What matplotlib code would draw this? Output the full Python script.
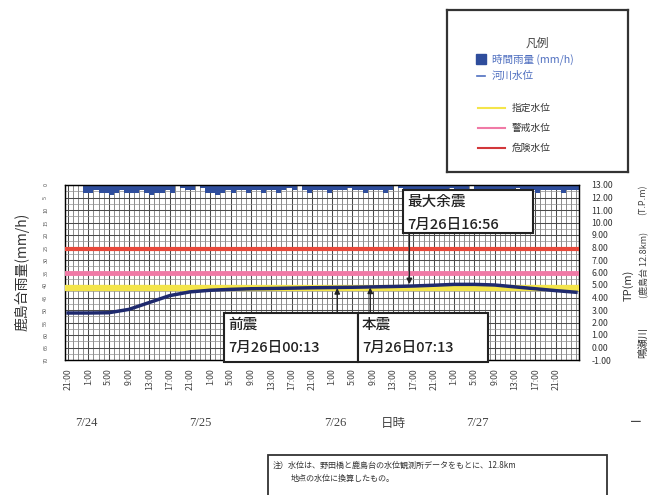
import numpy as np
import matplotlib
matplotlib.use("Agg")
import matplotlib.pyplot as plt
from matplotlib.patches import Rectangle

plt.rcParams['font.family'] = ['Noto Sans CJK JP', 'DejaVu Sans']

# ---------------- data ----------------
# hours counted from 7/23 21:00
rain_hours = list(range(0, 101))
rain_mm = [0, 0, 0, 3, 3, 2, 3, 3, 4, 3, 2, 3, 3, 3, 2, 3, 4, 3, 3, 2,
           3, 0, 1, 2, 2, 0, 1, 3, 3, 4, 3, 2, 3, 2, 2, 3, 2, 2, 3, 2,
           2, 3, 2, 1, 2, 0, 2, 3, 2, 2, 2, 3, 2, 2, 2, 1, 2, 2, 3, 2,
           2, 2, 3, 2, 0, 1, 2, 2, 3, 2, 2, 2, 3, 2, 2, 1, 2, 2, 2, 0,
           2, 2, 3, 2, 2, 2, 3, 2, 1, 2, 2, 2, 3, 2, 2, 2, 2, 3, 2, 2, 2]

level_hours = list(range(0, 101, 4))
level_m = [2.76, 2.76, 2.78, 3.05, 3.60, 4.15, 4.45, 4.58, 4.65, 4.70,
           4.72, 4.75, 4.78, 4.80, 4.82, 4.85, 4.88, 4.92, 4.98, 5.05,
           5.05, 5.00, 4.85, 4.70, 4.55, 4.42]

designated_level = 4.8   # 指定水位
warning_level = 6.0      # 警戒水位
danger_level = 7.9       # 危険水位

tick_hours = list(range(0, 97, 4))
tick_labels = ["21:00", "1:00", "5:00", "9:00", "13:00", "17:00"] * 4 + ["21:00"]

right_ticks = list(range(13, -2, -1))
left_ticks = list(range(0, 71, 5))

date_labels = ["7/24", "7/25", "7/26", "7/27"]

events = ["前震", "本震", "最大余震"]
event_times = ["7月26日00:13", "7月26日07:13", "7月26日16:56"]
event_hours = [53.0, 59.5, 67.2]

legend_items = ["時間雨量 (mm/h)", "河川水位", "指定水位", "警戒水位", "危険水位"]

# ---------------- figure ----------------
W, H = 653, 495
fig = plt.figure(figsize=(W / 100, H / 100), dpi=100)
fig.patch.set_facecolor('white')

def fx(px):
    return px / W

def fy(py):
    return 1 - py / H

ax = fig.add_axes([fx(65), fy(360), fx(579) - fx(65), fy(185) - fy(360)])
ax.set_xlim(-0.6, 100.6)
ax.set_ylim(70, 0)

# grid
ax.set_axisbelow(True)
ax.set_xticks(tick_hours)
ax.set_xticks(np.arange(0, 101, 1), minor=True)
ax.set_yticks(left_ticks)
ax.set_yticks(np.arange(0, 71, 2.5), minor=True)
ax.grid(which='minor', axis='x', color='#6e6e6e', lw=0.55)
ax.grid(which='minor', axis='y', color='#909090', lw=0.5)
ax.grid(which='major', color='#4a4a4a', lw=0.75)

ax.bar(rain_hours, rain_mm, width=1.0, color='#2e4d9c', align='edge', zorder=2)

ax.set_xticklabels(tick_labels, rotation=90, fontsize=6.3, color='#444444')
ax.tick_params(axis='x', which='both', length=0, pad=6)
ax.set_yticklabels([str(v) for v in left_ticks], fontsize=4, rotation=90,
                   color='#555555', va='center')
ax.tick_params(axis='y', which='both', length=0, pad=12)
for s in ax.spines.values():
    s.set_color('#222222')
    s.set_linewidth(1.0)

ax2 = ax.twinx()
ax2.set_ylim(-1, 13)
ax2.set_yticks(right_ticks)
ax2.set_yticklabels([f"{v:.2f}" for v in right_ticks], fontsize=6.3,
                    color='#333333')
ax2.tick_params(axis='y', length=0, pad=9)

ax2.axhline(danger_level, color='#e8493c', lw=3, zorder=3)
ax2.axhline(warning_level, color='#f07aa6', lw=3.5, zorder=3)
ax2.axhline(designated_level, color='#f4e54a', lw=4.5, zorder=3)
ax2.plot(level_hours, level_m, color='#1f2a6e', lw=2.5, zorder=4)

# event arrows
lv = np.interp(event_hours, level_hours, level_m)
arrow_start = [fy(313), fy(313), fy(233)]
for h, l, ys in zip(event_hours, lv, arrow_start):
    up = ys < fy(285)
    target = l + (-0.05 if up else 0.15)
    ax2.annotate('', xy=(h, target), xycoords='data',
                 xytext=(h, ys), textcoords=('data', 'figure fraction'),
                 arrowprops=dict(arrowstyle='-|>', color='#222222', lw=1.0,
                                 mutation_scale=8, shrinkA=0, shrinkB=0),
                 zorder=6)

# event boxes
boxes = [(224, 313, 358, 362), (358, 313, 488, 362), (403, 190, 533, 233)]
for (x0, y0, x1, y1), name, t in zip(boxes, events, event_times):
    fig.patches.append(Rectangle((fx(x0), fy(y1)), fx(x1) - fx(x0), fy(y0) - fy(y1),
                                 transform=fig.transFigure, facecolor='white',
                                 edgecolor='#222222', lw=1.5, zorder=7))
    fig.text(fx(x0 + 4), fy(y0 + 12), name, fontsize=10.5, color='#222222',
             va='center', ha='left', zorder=8, fontweight='medium')
    fig.text(fx(x0 + 4), fy(y0 + 35), t, fontsize=10.5, color='#222222',
             va='center', ha='left', zorder=8, fontweight='medium')

# axis labels
fig.text(fx(22), fy(272), "鹿島台雨量(mm/h)", rotation=90, fontsize=10,
         color='#333333', va='center', ha='center')
fig.text(fx(628), fy(285), "TP(m)", rotation=90, fontsize=8,
         color='#333333', va='center', ha='center')
fig.text(fx(643), fy(265), "(鹿島台 12.8km)", rotation=90, fontsize=6.5,
         color='#444444', va='center', ha='center')
fig.text(fx(643), fy(200), "(T.P.m)", rotation=90, fontsize=6.5,
         color='#444444', va='center', ha='center')
fig.text(fx(643), fy(342), "鳴瀬川", rotation=90, fontsize=7.5,
         color='#333333', va='center', ha='center')

# date labels
for xp, d in zip([86, 200, 335, 477], date_labels):
    fig.text(fx(xp), fy(423), d, fontsize=9, color='#444444',
             family=['Liberation Serif', 'DejaVu Serif'], ha='center', va='center')
fig.text(fx(393), fy(423), "日時", fontsize=9, color='#444444', ha='center', va='center')
fig.text(fx(636), fy(422), "━", fontsize=7, color='#444444', ha='center', va='center')

# legend box
lax = fig.add_axes([fx(447), fy(172), fx(628) - fx(447), fy(10) - fy(172)])
lax.set_xlim(447, 628)
lax.set_ylim(172, 10)
lax.set_xticks([])
lax.set_yticks([])
for s in lax.spines.values():
    s.set_color('#333333')
    s.set_linewidth(1.6)
lax.text(537, 43, "凡例", fontsize=8.5, color='#444444', ha='center', va='center')
lax.plot([481], [59], marker='s', ms=6.5, color='#2e4d9c', ls='none')
lax.text(492, 59, legend_items[0], fontsize=7.6, color='#4f6fc0', ha='left', va='center')
lax.plot([477, 485], [76, 76], color='#4f6fc0', lw=1.2)
lax.text(492, 76, legend_items[1], fontsize=7.6, color='#4f6fc0', ha='left', va='center')
line_cols = ['#f4e54a', '#f07aa6', '#d2373a']
for i, (lbl, c) in enumerate(zip(legend_items[2:], line_cols)):
    yy = 108 + i * 20
    lax.plot([478, 505], [yy, yy], color=c, lw=1.5)
    lax.text(512, yy, lbl, fontsize=7, color='#333333', ha='left', va='center')

# note box
fig.patches.append(Rectangle((fx(268), fy(497)), fx(607) - fx(268), fy(455) - fy(497),
                             transform=fig.transFigure, facecolor='white',
                             edgecolor='#333333', lw=1.3, zorder=5))
fig.text(fx(273), fy(465), "注）水位は、野田橋と鹿島台の水位観測所データをもとに、12.8km",
         fontsize=5.8, color='#333333', ha='left', va='center', zorder=6)
fig.text(fx(291), fy(478), "地点の水位に換算したもの。",
         fontsize=5.8, color='#333333', ha='left', va='center', zorder=6)

fig.savefig("out.png", dpi=100, facecolor='white')
